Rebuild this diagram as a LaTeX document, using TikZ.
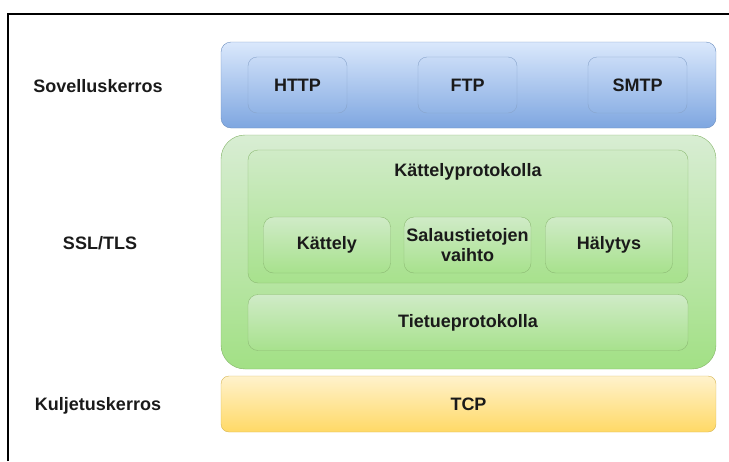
\documentclass[tikz,border=0pt]{standalone}
\usepackage{fontspec}
\setmainfont{Liberation Sans}
\definecolor{apptop}{HTML}{DAE8FC}
\definecolor{appbot}{HTML}{7EA6E0}
\definecolor{appline}{HTML}{6C8EBF}
\definecolor{tlstop}{HTML}{D8EDD3}
\definecolor{tlsbot}{HTML}{A2E085}
\definecolor{tlsline}{HTML}{82B366}
\definecolor{tcptop}{HTML}{FFF2CC}
\definecolor{tcpbot}{HTML}{FFD966}
\definecolor{tcpline}{HTML}{D6B656}
\definecolor{txt}{HTML}{1A1A1A}

\begin{document}
\begin{tikzpicture}[x=1pt, y=-1pt,
    every node/.style={font=\fontsize{18}{20}\selectfont\bfseries, text=txt, inner sep=0pt, outer sep=0pt},
    appbox/.style={draw=appline, top color=apptop, bottom color=appbot, rounded corners=10pt},
    appsub/.style={draw=appline!80, top color=apptop!80!appbot, bottom color=appbot!80!apptop, rounded corners=9pt, minimum width=99pt, minimum height=56pt},
    tlsbox/.style={draw=tlsline, top color=tlstop, bottom color=tlsbot, rounded corners=24pt},
    tlssub/.style={draw=tlsline!90, top color=tlstop!85!tlsbot, bottom color=tlsbot!90!tlstop, rounded corners=10pt},
    tcpbox/.style={draw=tcpline, top color=tcptop, bottom color=tcpbot, rounded corners=8pt}]
    \useasboundingbox (0,0) rectangle (729,461);
    \draw[line width=1.3pt] (8,461) -- (8,14) -- (729,14);
    \node[appbox, minimum width=495pt, minimum height=86pt] (app) at (468.5,85) {};
    \node[appsub] (http) at (297.5,85) {HTTP};
    \node[appsub] (ftp) at (467.5,85) {FTP};
    \node[appsub] (smtp) at (637.5,85) {SMTP};
    \node[tlsbox, minimum width=495pt, minimum height=234pt] (tls) at (468.5,252) {};
    \node[tlssub, minimum width=440pt, minimum height=133pt] (hs) at (468,216.5) {};
    \node (hslabel) at (468,172) {Kättelyprotokolla};
    \node[tlssub, minimum width=127pt, minimum height=56pt] (hand) at (327,245) {Kättely};
    \node[tlssub, minimum width=127pt, minimum height=56pt, align=center] (cipher) at (467.5,245) {Salaustietojen\\vaihto};
    \node[tlssub, minimum width=127pt, minimum height=56pt] (alert) at (609,245) {Hälytys};
    \node[tlssub, minimum width=440pt, minimum height=56pt] (record) at (468,322.5) {Tietueprotokolla};
    \node[tcpbox, minimum width=495pt, minimum height=56pt] (tcp) at (468.5,404) {TCP};
    \node (applabel) at (98,86) {Sovelluskerros};
    \node (tlslabel) at (100,243) {SSL/TLS};
    \node (tcplabel) at (98,406) {Kuljetuskerros};
\end{tikzpicture}
\end{document}
